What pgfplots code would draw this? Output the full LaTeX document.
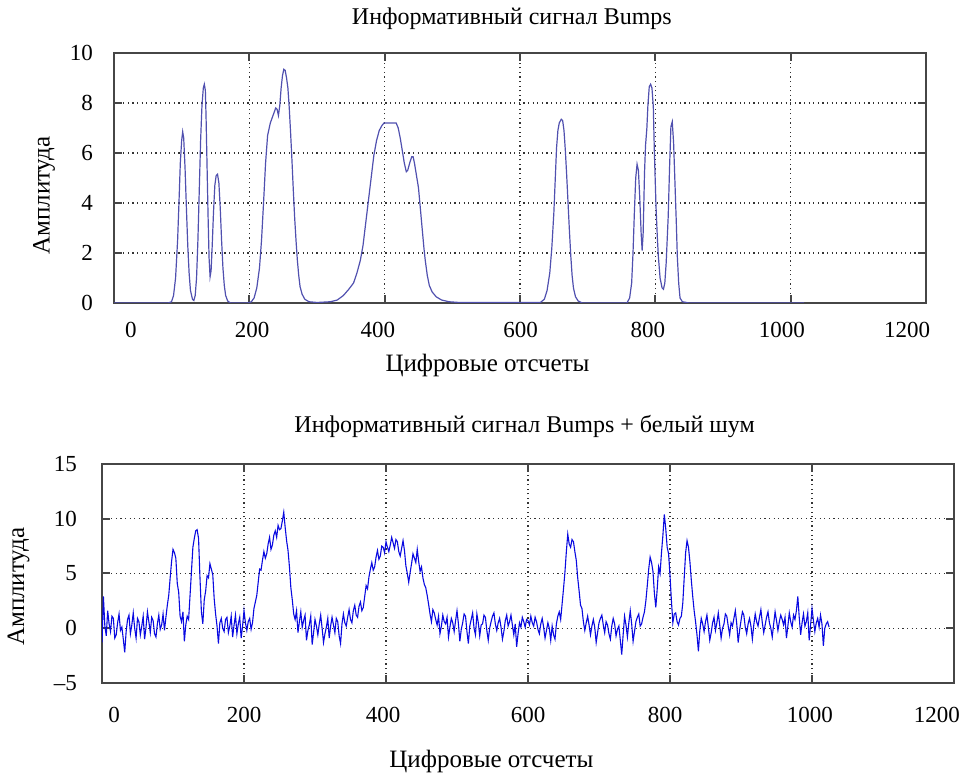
\documentclass[border=0pt]{standalone}
\usepackage{fontspec}
\setmainfont{Liberation Serif}
\usepackage{pgfplots}
\pgfplotsset{compat=1.18}
\definecolor{topline}{RGB}{80,80,175}
\definecolor{botline}{RGB}{10,10,225}
\definecolor{framec}{RGB}{70,70,70}
\pgfplotsset{mystyle/.style={
  scale only axis,
  axis line style={framec, line width=1pt},
  tick align=inside, tick pos=both,
  major tick style={framec, line width=1pt}, major tick length=4pt,
  xmajorgrids, ymajorgrids,
  major grid style={black!80, line width=0.55pt, dash pattern=on 0.6pt off 1.7pt},
  xmin=0, xmax=1200,
  xtick={0,200,...,1200}, xticklabels={},
  extra x tick style={grid=none, major tick length=0pt},
  extra x tick labels={0,200,400,600,800,1000,1200},
  ticklabel style={font=\fontsize{11.5}{13}\selectfont},
  /pgf/number format/assume math mode=true,
  label style={font=\fontsize{12.5}{14}\selectfont},
  title style={font=\fontsize{12}{14}\selectfont},
  yticklabel style={anchor=east},
  no markers,
}}
\begin{document}
\begin{tikzpicture}
\useasboundingbox (0,0) rectangle (481pt,387pt);
% ---------------- top axis ----------------
\begin{axis}[mystyle,
  at={(57pt,235.5pt)}, anchor=south west, width=406pt, height=125pt,
  ymin=0, ymax=10, ytick={0,2,...,10},
  extra x ticks={25,204,390,601,789,987,1172},
  xticklabel style={anchor=base, yshift=-17.5pt},
  yticklabel style={xshift=-7pt},
  title={Информативный сигнал Bumps},
  title style={at={(axis description cs:0.49,1)}, anchor=base, yshift=8pt},
  xlabel={Цифровые отсчеты},
  xlabel style={at={(axis description cs:0.46,0)}, anchor=base, yshift=-34.5pt},
  ylabel={Амплитуда},
  ylabel style={at={(axis description cs:-0.086,0.43)}, anchor=center},
]
\addplot[topline, line width=0.6pt] coordinates {
(0,0) (80,0) (85,0.05) (88,0.3) (91,1.0) (94,2.5) (96,4.0) (98,5.6) (100,6.5) (101.5,6.85) (103,6.6) (105,5.4) (107,3.8) (109,2.3) (111,1.2) (113,0.5) (116,0.15) (118,0.1) (120,0.3) (122,1.0) (124,2.5) (126,4.5) (128,6.5) (130,7.9) (132,8.6) (133.5,8.75) (135,8.5) (136,7.5) (137.5,5.5) (139,3.5) (140.5,1.8) (142,1.05) (143.5,1.3) (145,2.2) (147,3.6) (149,4.7) (151,5.1) (153,5.15) (155,4.8) (157,3.8) (159,2.5) (161,1.4) (163,0.7) (165,0.3) (168,0.08) (172,0) (198,0) (203,0.05) (207,0.2) (211,0.6) (215,1.4) (218,2.5) (221,4.0) (224,5.6) (227,6.7) (231,7.2) (235,7.5) (239,7.8) (241,7.75) (243,7.5) (245,7.9) (247,8.6) (249,9.1) (251,9.35) (253,9.3) (255,9.0) (257,8.6) (259,7.8) (261,6.8) (263,5.7) (265,4.5) (267,3.4) (269,2.5) (271,1.7) (273,1.1) (275,0.65) (278,0.35) (282,0.15) (288,0.05) (300,0.02) (320,0.05) (330,0.12) (339,0.3) (347,0.55) (354,0.8) (359,1.2) (364,1.7) (368,2.3) (372,3.2) (376,4.1) (380,5.0) (384,5.9) (388,6.5) (392,6.9) (396,7.1) (399,7.2) (417,7.2) (420,7.0) (423,6.6) (426,6.1) (429,5.6) (432,5.25) (434,5.3) (437,5.6) (440,5.85) (442,5.85) (444,5.6) (447,5.1) (450,4.6) (452,4.0) (454,3.4) (456,2.8) (458,2.2) (460,1.7) (463,1.1) (466,0.7) (470,0.45) (476,0.25) (484,0.12) (495,0.05) (510,0.02) (630,0.02) (636,0.15) (640,0.5) (644,1.2) (647,2.2) (650,3.6) (652,4.9) (654,6.2) (656,6.9) (658,7.2) (661,7.35) (663,7.3) (665,6.9) (667,6.1) (669,5.1) (671,4.0) (673,2.9) (675,1.9) (677,1.1) (679,0.6) (682,0.25) (686,0.08) (692,0) (758,0) (762,0.2) (765,0.8) (767,2.0) (769,3.6) (771,5.0) (773,5.55) (775,5.3) (777,4.2) (779,2.8) (780.5,2.1) (782,2.8) (784,5.2) (785.5,6.3) (787.5,7.0) (789,7.9) (791,8.65) (793,8.75) (795,8.6) (797,7.85) (798.5,6.1) (801,3.85) (803,2.6) (804.5,1.85) (807,1.0) (810,0.6) (812,0.55) (814,0.8) (816,1.6) (819,3.45) (821,5.4) (823,7.05) (825,7.25) (827,6.4) (829,4.8) (831,3.2) (832.5,1.85) (834.5,0.8) (836.5,0.2) (840,0.05) (850,0) (1020,0)
};
\end{axis}
% ---------------- bottom axis ----------------
\begin{axis}[mystyle,
  at={(51pt,45.5pt)}, anchor=south west, width=426pt, height=109.5pt,
  ymin=-5, ymax=15, ytick={-5,0,5,10,15}, yticklabels={–5,0,5,10,15},
  extra x ticks={17,200,396,600,793,997,1176},
  xticklabel style={anchor=base, yshift=-20pt},
  yticklabel style={xshift=-9pt},
  title={Информативный сигнал Bumps + белый шум},
  title style={at={(axis description cs:0.496,1)}, anchor=base, yshift=9.5pt},
  xlabel={Цифровые отсчеты},
  xlabel style={at={(axis description cs:0.457,0)}, anchor=base, yshift=-42.5pt},
  ylabel={Амплитуда},
  ylabel style={at={(axis description cs:-0.098,0.44)}, anchor=center},
]
\addplot[botline, line width=0.55pt] coordinates {
(0,-1.3) (2,2.9) (4,0.2) (6,-0.7) (8,1.6) (10,0.4) (12,-0.3) (14,1.1) (16,0.9) (18,-0.9) (20,-0.6) (22,0.5) (24,1.3) (26,-0.2) (28,0.1) (30,-1.0) (32,-2.2) (34,-0.3) (36,0.8) (38,1.2) (40,-0.5) (42,0.3) (44,1.4) (46,0.0) (48,-0.9) (50,0.9) (52,0.6) (54,-0.6) (56,0.2) (58,1.1) (60,-1.0) (62,0.1) (64,1.5) (66,0.6) (68,-0.4) (70,1.0) (72,0.7) (74,-0.5) (76,-0.8) (78,0.4) (80,1.2) (82,-0.1) (84,0.3) (86,1.3) (88,-0.2) (90,1.0) (92,2.1) (94,3.0) (96,4.6) (98,6.1) (100,7.2) (102,6.9) (104,6.4) (106,4.1) (108,3.3) (110,1.1) (112,0.6) (114,1.5) (116,-1.2) (118,0.3) (120,1.1) (122,0.8) (124,3.0) (126,5.2) (128,7.4) (130,8.2) (132,8.9) (134,9.0) (136,8.2) (138,4.6) (140,1.5) (142,0.4) (144,2.6) (146,3.4) (148,4.8) (150,4.6) (152,5.9) (154,5.4) (156,4.9) (158,2.7) (160,1.3) (162,0.2) (164,-1.4) (166,0.5) (168,0.9) (170,0.0) (172,-0.3) (174,0.8) (176,1.0) (178,-0.4) (180,0.2) (182,1.1) (184,-0.8) (186,0.3) (188,1.2) (190,-0.5) (192,0.4) (194,1.0) (196,-0.9) (198,0.2) (200,1.6) (202,0.5) (204,-0.2) (206,0.6) (208,0.9) (210,-0.1) (212,0.5) (214,1.8) (216,2.4) (218,3.0) (220,4.2) (222,5.4) (224,5.3) (226,6.2) (228,7.0) (230,6.4) (232,6.8) (234,7.7) (236,8.3) (238,7.2) (240,7.6) (242,8.5) (244,8.9) (246,8.3) (248,9.4) (250,9.0) (252,9.1) (254,9.8) (256,10.6) (258,9.2) (260,8.0) (262,7.1) (264,5.6) (266,3.7) (268,2.6) (270,1.3) (272,0.8) (274,1.6) (276,-0.4) (278,0.6) (280,1.5) (282,0.1) (284,0.7) (286,1.2) (288,-1.1) (290,-0.2) (292,0.3) (294,1.1) (296,-1.5) (298,-0.4) (300,0.8) (302,0.2) (304,-0.6) (306,0.4) (308,1.2) (310,0.0) (312,-1.3) (314,-0.5) (316,0.1) (318,0.9) (320,-0.9) (322,0.2) (324,1.0) (326,0.3) (328,-0.4) (330,0.9) (332,0.6) (334,-0.7) (336,-1.4) (338,0.4) (340,1.3) (342,0.5) (344,0.2) (346,1.0) (348,1.7) (350,0.8) (352,0.5) (354,1.6) (356,2.1) (358,1.2) (360,1.0) (362,2.0) (364,2.4) (366,1.6) (368,1.9) (370,2.9) (372,3.9) (374,3.6) (376,4.7) (378,5.4) (380,6.0) (382,5.3) (384,5.6) (386,6.5) (388,7.1) (390,6.3) (392,6.6) (394,7.5) (396,7.4) (398,6.9) (400,7.9) (402,7.4) (404,7.0) (406,7.6) (408,8.3) (410,7.8) (412,7.3) (414,8.1) (416,7.9) (418,7.0) (420,6.6) (422,7.3) (424,8.0) (426,7.1) (428,5.7) (430,5.0) (432,4.2) (434,5.1) (436,5.9) (438,6.8) (440,6.4) (442,6.0) (444,7.2) (446,6.1) (448,5.2) (450,5.6) (452,4.6) (454,4.0) (456,3.7) (458,3.0) (460,2.2) (462,1.3) (464,0.6) (466,1.7) (468,1.4) (470,0.8) (472,0.3) (474,1.1) (476,-0.5) (478,0.2) (480,1.2) (482,0.6) (484,0.4) (486,1.0) (488,-0.8) (490,0.1) (492,0.9) (494,0.5) (496,-0.3) (498,0.7) (500,1.6) (502,0.4) (504,-1.2) (506,-0.1) (508,0.5) (510,1.3) (512,1.1) (514,-0.3) (516,-1.4) (518,0.2) (520,0.8) (522,1.4) (524,0.0) (526,-0.6) (528,1.3) (530,0.5) (532,-0.7) (534,0.3) (536,0.4) (538,1.2) (540,1.0) (542,-0.2) (544,-1.1) (546,0.0) (548,0.6) (550,1.1) (552,1.4) (554,0.4) (556,-0.2) (558,0.5) (560,0.9) (562,0.1) (564,-1.0) (566,-0.3) (568,0.7) (570,1.2) (572,0.2) (574,0.6) (576,1.2) (578,0.3) (580,-0.6) (582,0.4) (584,-1.7) (586,-0.5) (588,0.5) (590,0.1) (592,1.0) (594,0.6) (596,0.1) (598,0.8) (600,0.7) (602,0.3) (604,1.1) (606,0.5) (608,0.2) (610,1.0) (612,0.6) (614,-0.1) (616,-0.5) (618,0.4) (620,0.9) (622,0.1) (624,-0.9) (626,-0.2) (628,0.5) (630,0.0) (632,-1.1) (634,0.2) (636,-0.6) (638,-1.0) (640,0.4) (642,1.1) (644,1.5) (646,0.8) (648,2.2) (650,3.6) (652,5.1) (654,7.0) (656,8.6) (658,7.7) (660,7.4) (662,8.1) (664,7.9) (666,7.0) (668,6.2) (670,4.6) (672,3.4) (674,2.1) (676,1.8) (678,0.6) (680,-0.2) (682,0.5) (684,1.1) (686,0.3) (688,-0.6) (690,0.2) (692,0.8) (694,0.1) (696,-1.3) (698,-0.4) (700,0.5) (702,0.9) (704,1.2) (706,0.3) (708,-0.4) (710,0.6) (712,0.3) (714,-0.5) (716,-1.0) (718,0.2) (720,0.9) (722,0.4) (724,-0.7) (726,-0.1) (728,0.2) (730,-1.1) (732,-2.4) (734,-0.6) (736,1.1) (738,0.3) (740,-0.8) (742,0.5) (744,1.6) (746,0.4) (748,-1.2) (750,-0.3) (752,0.6) (754,1.0) (756,1.3) (758,0.2) (760,0.4) (762,1.0) (764,1.5) (766,2.5) (768,3.9) (770,5.4) (772,6.5) (774,6.0) (776,5.2) (778,3.2) (780,1.9) (782,3.6) (784,5.6) (786,5.0) (788,6.9) (790,8.5) (792,10.4) (794,9.1) (796,7.4) (798,6.8) (800,4.8) (802,2.5) (804,0.5) (806,1.3) (808,1.4) (810,0.6) (812,0.3) (814,0.9) (816,1.1) (818,2.3) (820,4.6) (822,6.9) (824,8.0) (826,7.4) (828,6.1) (830,4.4) (832,2.9) (834,1.6) (836,0.6) (838,-0.6) (840,-2.1) (842,-0.2) (844,0.9) (846,0.4) (848,-0.3) (850,0.6) (852,1.2) (854,0.1) (856,-1.1) (858,-0.4) (860,0.5) (862,1.0) (864,-0.2) (866,0.5) (868,1.4) (870,0.3) (872,-0.9) (874,0.0) (876,0.4) (878,1.3) (880,1.1) (882,0.2) (884,-0.6) (886,0.5) (888,0.2) (890,0.9) (892,1.6) (894,0.4) (896,-1.3) (898,-0.2) (900,0.7) (902,1.5) (904,1.2) (906,0.1) (908,-0.5) (910,0.4) (912,0.9) (914,0.2) (916,-1.0) (918,0.3) (920,1.3) (922,0.6) (924,0.2) (926,1.0) (928,1.7) (930,0.5) (932,-0.4) (934,0.3) (936,1.0) (938,1.5) (940,0.5) (942,0.0) (944,-0.8) (946,0.4) (948,1.5) (950,0.7) (952,-0.2) (954,0.6) (956,1.2) (958,0.8) (960,0.3) (962,1.0) (964,-0.9) (966,0.2) (968,1.4) (970,0.6) (972,0.1) (974,1.2) (976,0.8) (978,1.6) (980,2.9) (982,1.0) (984,-0.6) (986,0.5) (988,1.3) (990,0.2) (992,0.6) (994,1.4) (996,-1.1) (998,0.3) (1000,1.8) (1002,0.7) (1004,-0.3) (1006,0.5) (1008,0.9) (1010,0.1) (1012,1.2) (1014,0.4) (1016,-1.6) (1018,0.0) (1020,0.4) (1022,0.6) (1024,0.1)
};
\end{axis}
\end{tikzpicture}
\end{document}
